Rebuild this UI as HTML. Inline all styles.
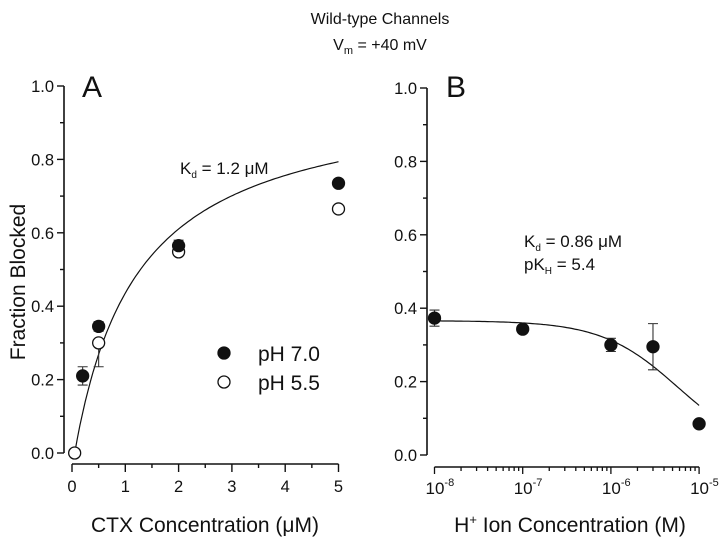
<!DOCTYPE html>
<html><head><meta charset="utf-8"><style>
body{margin:0;background:#fff;}
svg text{font-family:"Liberation Sans",Arial,sans-serif;fill:#111;}
</style></head><body>
<svg width="720" height="538" viewBox="0 0 720 538" xmlns="http://www.w3.org/2000/svg">
<g>
<text x="380" y="24" font-size="16" text-anchor="middle">Wild-type Channels</text>
<text x="380" y="50" font-size="16" text-anchor="middle">V<tspan font-size="11" dy="4">m</tspan><tspan dy="-4"> = +40 mV</tspan></text>
</g>
<g id="panelA"></g>
<g id="panelB"></g>
</svg>
<script>
// Panel A data
const aPh7X = [0.2, 0.5, 2, 5];
const aPh7Y = [0.21, 0.345, 0.565, 0.735];
const aPh7Err = [0.025, 0.013, 0.015, 0];
const aPh55X = [0.05, 0.5, 2, 5];
const aPh55Y = [0.0, 0.30, 0.548, 0.665];
const aPh55ErrDown = [0, 0.065, 0, 0];
const aFit = [0.986, 1.2]; // Bmax, Kd
const aXTicks = [0, 1, 2, 3, 4, 5];
const yTicks = [0.0, 0.2, 0.4, 0.6, 0.8, 1.0];
// Panel B data
const bX = [1e-8, 1e-7, 1e-6, 3e-6, 1e-5];
const bY = [0.373, 0.343, 0.30, 0.295, 0.085];
const bErr = [0.022, 0, 0.018, 0.063, 0];
const bFit = [0.366, 5.85e-6];
const bXTickExp = [-8, -7, -6, -5];

const NS = "http://www.w3.org/2000/svg";
function mk(parent, tag, attrs){const e=document.createElementNS(NS,tag);for(const k in attrs)e.setAttribute(k,attrs[k]);parent.appendChild(e);return e;}

function yAxis(g, ys, x, y0, y1){
  const sy = v => y0 + (y1 - y0) * v;
  const ax = mk(g,'line',{x1:x,y1:sy(0),x2:x,y2:sy(1),stroke:'#111','stroke-width':1.6});
  
  
  for(let i=0;i<=10;i++){
    const v=i/10;
    const t=mk(g,'line',{x1:x-(i%2?4:7),y1:sy(v),x2:x,y2:sy(v),stroke:'#111','stroke-width':1.4});
    
    
  }
  ys.forEach(v=>{
    const t=mk(g,'text',{x:x-10,y:sy(v)+6,'font-size':16.5,'text-anchor':'end'});
    t.textContent=v.toFixed(1);
    
    
  });
  return sy;
}
function circ(g,x,y,filled,name){
  const c=mk(g,'circle',{cx:x,cy:y,r:6,fill:filled?'#111':'#fff',stroke:'#111','stroke-width':1.3});
  
  
}
function errBar(g,x,yTop,yBot,name){
  const p=mk(g,'path',{d:`M${x},${yTop}V${yBot}M${x-5},${yTop}H${x+5}M${x-5},${yBot}H${x+5}`,stroke:'#333','stroke-width':1.1,fill:'none'});
  
  
}

// ---- Panel A ----
(function(){
  const g=document.getElementById('panelA');
  const sx=v=>72+v*53.3;
  const sy=yAxis(g,yTicks,64,453,86);
  const xl=mk(g,'line',{x1:sx(0),y1:464,x2:sx(5),y2:464,stroke:'#111','stroke-width':1.6});
  
  
  for(let i=0;i<=10;i++){
    const t=mk(g,'line',{x1:sx(i/2),y1:464,x2:sx(i/2),y2:464+(i%2?4:8),stroke:'#111','stroke-width':1.4});
    
    
  }
  aXTicks.forEach(v=>{
    const t=mk(g,'text',{x:sx(v),y:492,'font-size':16.5,'text-anchor':'middle'});
    t.textContent=String(v);
    
    
  });
  let d='';
  for(let i=0;i<=100;i++){const x=0.05+(5-0.05)*i/100;const y=aFit[0]*(x-0.05)/(x-0.05+aFit[1]);d+=(i?'L':'M')+sx(x).toFixed(1)+','+sy(y).toFixed(1);}
  const fp=mk(g,'path',{d:d,stroke:'#111','stroke-width':1.2,fill:'none'});
  
  
  aPh7X.forEach((x,i)=>{ if(aPh7Err[i]>0) errBar(g,sx(x),sy(aPh7Y[i]+aPh7Err[i]),sy(aPh7Y[i]-aPh7Err[i]),'error-bar-ph7'); });
  aPh55X.forEach((x,i)=>{ if(aPh55ErrDown[i]>0) errBar(g,sx(x),sy(aPh55Y[i]),sy(aPh55Y[i]-aPh55ErrDown[i]),'error-bar-ph55'); });
  aPh55X.forEach((x,i)=>circ(g,sx(x),sy(aPh55Y[i]),false,'point-ph55'));
  aPh7X.forEach((x,i)=>circ(g,sx(x),sy(aPh7Y[i]),true,'point-ph7'));
  const A=mk(g,'text',{x:82,y:97,'font-size':30});A.textContent='A';
  
  const kd=mk(g,'text',{x:180,y:174,'font-size':17});
  kd.innerHTML='K<tspan font-size="10" dy="4">d</tspan><tspan dy="-4"> = 1.2 μM</tspan>';
  
  const yt=mk(g,'text',{x:0,y:0,'font-size':21,'text-anchor':'middle',transform:'translate(25,282) rotate(-90)'});
  yt.textContent='Fraction Blocked';
  
  const xt=mk(g,'text',{x:205,y:532,'font-size':21,'text-anchor':'middle'});
  xt.textContent='CTX Concentration (μM)';
  
  const lg=mk(g,'g',{});
  circ(lg,224,353,true,'legend-marker-ph7');
  circ(lg,224,382,false,'legend-marker-ph55');
  const l1=mk(lg,'text',{x:258,y:361,'font-size':21});l1.textContent='pH 7.0';
  
  const l2=mk(lg,'text',{x:258,y:390,'font-size':21});l2.textContent='pH 5.5';
  
})();

// ---- Panel B ----
(function(){
  const g=document.getElementById('panelB');
  const sx=v=>434.5+(Math.log10(v)+8)*88.2;
  const sy=yAxis(g,yTicks,427,455,88);
  const xl=mk(g,'line',{x1:sx(1e-8),y1:467,x2:sx(1e-5),y2:467,stroke:'#111','stroke-width':1.6});
  
  
  for(let e=-8;e<=-5;e++){
    for(let m=1;m<=9;m++){
      if(e===-5&&m>1)break;
      const v=m*Math.pow(10,e);
      const t=mk(g,'line',{x1:sx(v),y1:467,x2:sx(v),y2:467+(m===1?7:4),stroke:'#111','stroke-width':1.3});
      
      
    }
  }
  bXTickExp.forEach(e=>{
    const t=mk(g,'text',{x:sx(Math.pow(10,e))-9,y:494,'font-size':17,'text-anchor':'start'});
    t.innerHTML='10<tspan font-size="11" dy="-8">'+e+'</tspan>';
    
    
  });
  let d='';
  for(let i=0;i<=100;i++){const lx=-8+3*i/100;const h=Math.pow(10,lx);const y=bFit[0]/(1+h/bFit[1]);d+=(i?'L':'M')+sx(h).toFixed(1)+','+sy(y).toFixed(1);}
  const fp=mk(g,'path',{d:d,stroke:'#111','stroke-width':1.2,fill:'none'});
  
  
  bX.forEach((x,i)=>{ if(bErr[i]>0) errBar(g,sx(x),sy(bY[i]+bErr[i]),sy(bY[i]-bErr[i]),'error-bar-b'); });
  bX.forEach((x,i)=>circ(g,sx(x),sy(bY[i]),true,'point-b'));
  const B=mk(g,'text',{x:446,y:97,'font-size':30});B.textContent='B';
  
  const k1=mk(g,'text',{x:524,y:247,'font-size':17});
  k1.innerHTML='K<tspan font-size="10" dy="4">d</tspan><tspan dy="-4"> = 0.86 μM</tspan>';
  
  const k2=mk(g,'text',{x:524,y:270,'font-size':17});
  k2.innerHTML='pK<tspan font-size="10" dy="4">H</tspan><tspan dy="-4"> = 5.4</tspan>';
  
  const xt=mk(g,'text',{x:570,y:532,'font-size':21,'text-anchor':'middle'});
  xt.innerHTML='H<tspan font-size="13" dy="-8">+</tspan><tspan dy="8"> Ion Concentration (M)</tspan>';
  
})();
</script>
</body></html>
